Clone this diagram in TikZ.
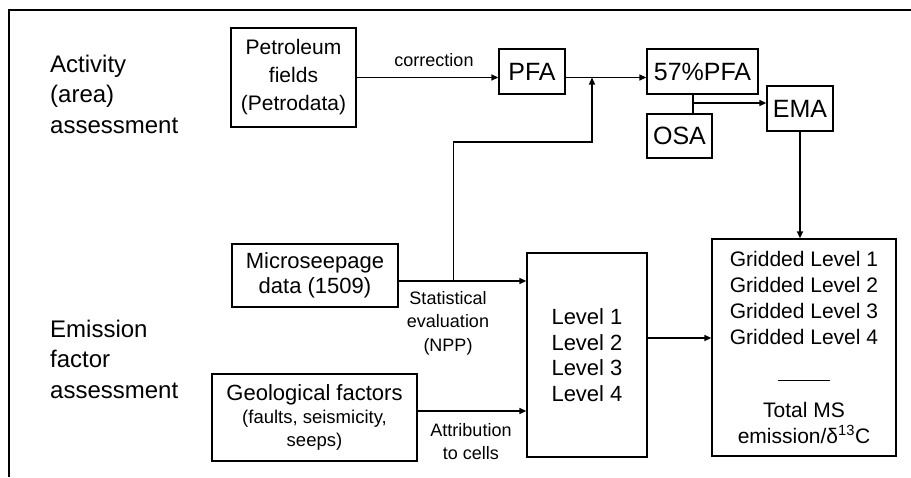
\documentclass[tikz,border=0pt]{standalone}
\usepackage{fontspec}
\setmainfont{Liberation Sans}
\usetikzlibrary{arrows.meta}
\tikzset{
  box/.style={draw, line width=1.3pt, inner sep=0pt, align=center},
  big/.style={font=\fontsize{25}{30}\selectfont},
  lab/.style={inner sep=0pt, align=left, font=\fontsize{24}{30.5}\selectfont},
  small/.style={inner sep=0pt, align=center, font=\fontsize{18}{23.5}\selectfont},
  arr/.style={line width=1.3pt, -{Triangle[length=7pt,width=6pt]}},
  ln/.style={line width=1.3pt}
}
\begin{document}
\begin{tikzpicture}[x=1pt,y=-1pt]
\useasboundingbox (0,0) rectangle (911,477);
\draw[line width=2.5pt] (9,477) -- (9,10) -- (911,10);

\node[lab, anchor=west] (act) at (50,94) {Activity\\(area)\\assessment};
\node[lab, anchor=west] (emi) at (50,359) {Emission\\factor\\assessment};

\node[box, minimum width=125pt, minimum height=99pt, font=\fontsize{21}{28}\selectfont] (pet) at (293.5,77.5) {Petroleum\\fields\\(Petrodata)};
\node[box, big, minimum width=66pt, minimum height=45pt] (pfa) at (532,71.5) {PFA};
\node[box, big, minimum width=111pt, minimum height=45pt] (p57) at (702.5,71.5) {57\%PFA};
\node[box, big, minimum width=66pt, minimum height=45pt] (ema) at (800,108.5) {EMA};
\node[box, big, minimum width=65pt, minimum height=44pt] (osa) at (679.5,136) {OSA};

\node[box, minimum width=166pt, minimum height=63pt, font=\fontsize{22}{25}\selectfont] (mic) at (315,275.5) {Microseepage\\data (1509)};
\node[box, minimum width=205pt, minimum height=87pt, font=\fontsize{18.5}{23}\selectfont] (geo) at (314.5,417.5) {{\fontsize{22}{23}\selectfont Geological factors}\\(faults, seismicity,\\seeps)};
\node[box, minimum width=120pt, minimum height=204pt, font=\fontsize{22}{25.5}\selectfont] (lev) at (587,355) {Level 1\\Level 2\\Level 3\\Level 4};
\node[box, minimum width=184pt, minimum height=217pt, font=\fontsize{21}{26}\selectfont] (grid) at (804,347.5) {Gridded Level 1\\Gridded Level 2\\Gridded Level 3\\Gridded Level 4\\[10pt]\rule{52pt}{1pt}\\[11pt]Total MS\\emission/δ\textsuperscript{13}C};

\node[small] (corr) at (434,60) {correction};
\node[small] (stat) at (448,323) {Statistical\\evaluation\\(NPP)};
\node[small] (attr) at (471,441.5) {Attribution\\to cells};

% connectors
\draw[arr] (pet.east) -- (pfa.west |- pet.east);
\draw[arr] (pfa.east |- pet.east) -- (p57.west |- pet.east);

\coordinate (m1) at ([yshift=-5.5pt]mic.east);
\draw[arr] (m1) -- (lev.west |- m1);
\path (m1) ++(55,0) coordinate (mb);
\coordinate (k) at (592,142);
\coordinate (j) at (592,77.5);
\draw[arr] (mb) |- (k) -- (j);

\coordinate (d1) at (693,103);
\draw[ln] (p57.south -| d1) -- (osa.north -| d1);
\draw[arr] (d1) -- (ema.west |- d1);
\draw[arr] (ema.south) -- (ema.south |- grid.north);

\coordinate (g1) at ([yshift=6.5pt]geo.east);
\draw[arr] (g1) -- (lev.west |- g1);
\coordinate (l1) at ([yshift=17pt]lev.east);
\draw[arr] (l1) -- (grid.west |- l1);
\end{tikzpicture}
\end{document}
